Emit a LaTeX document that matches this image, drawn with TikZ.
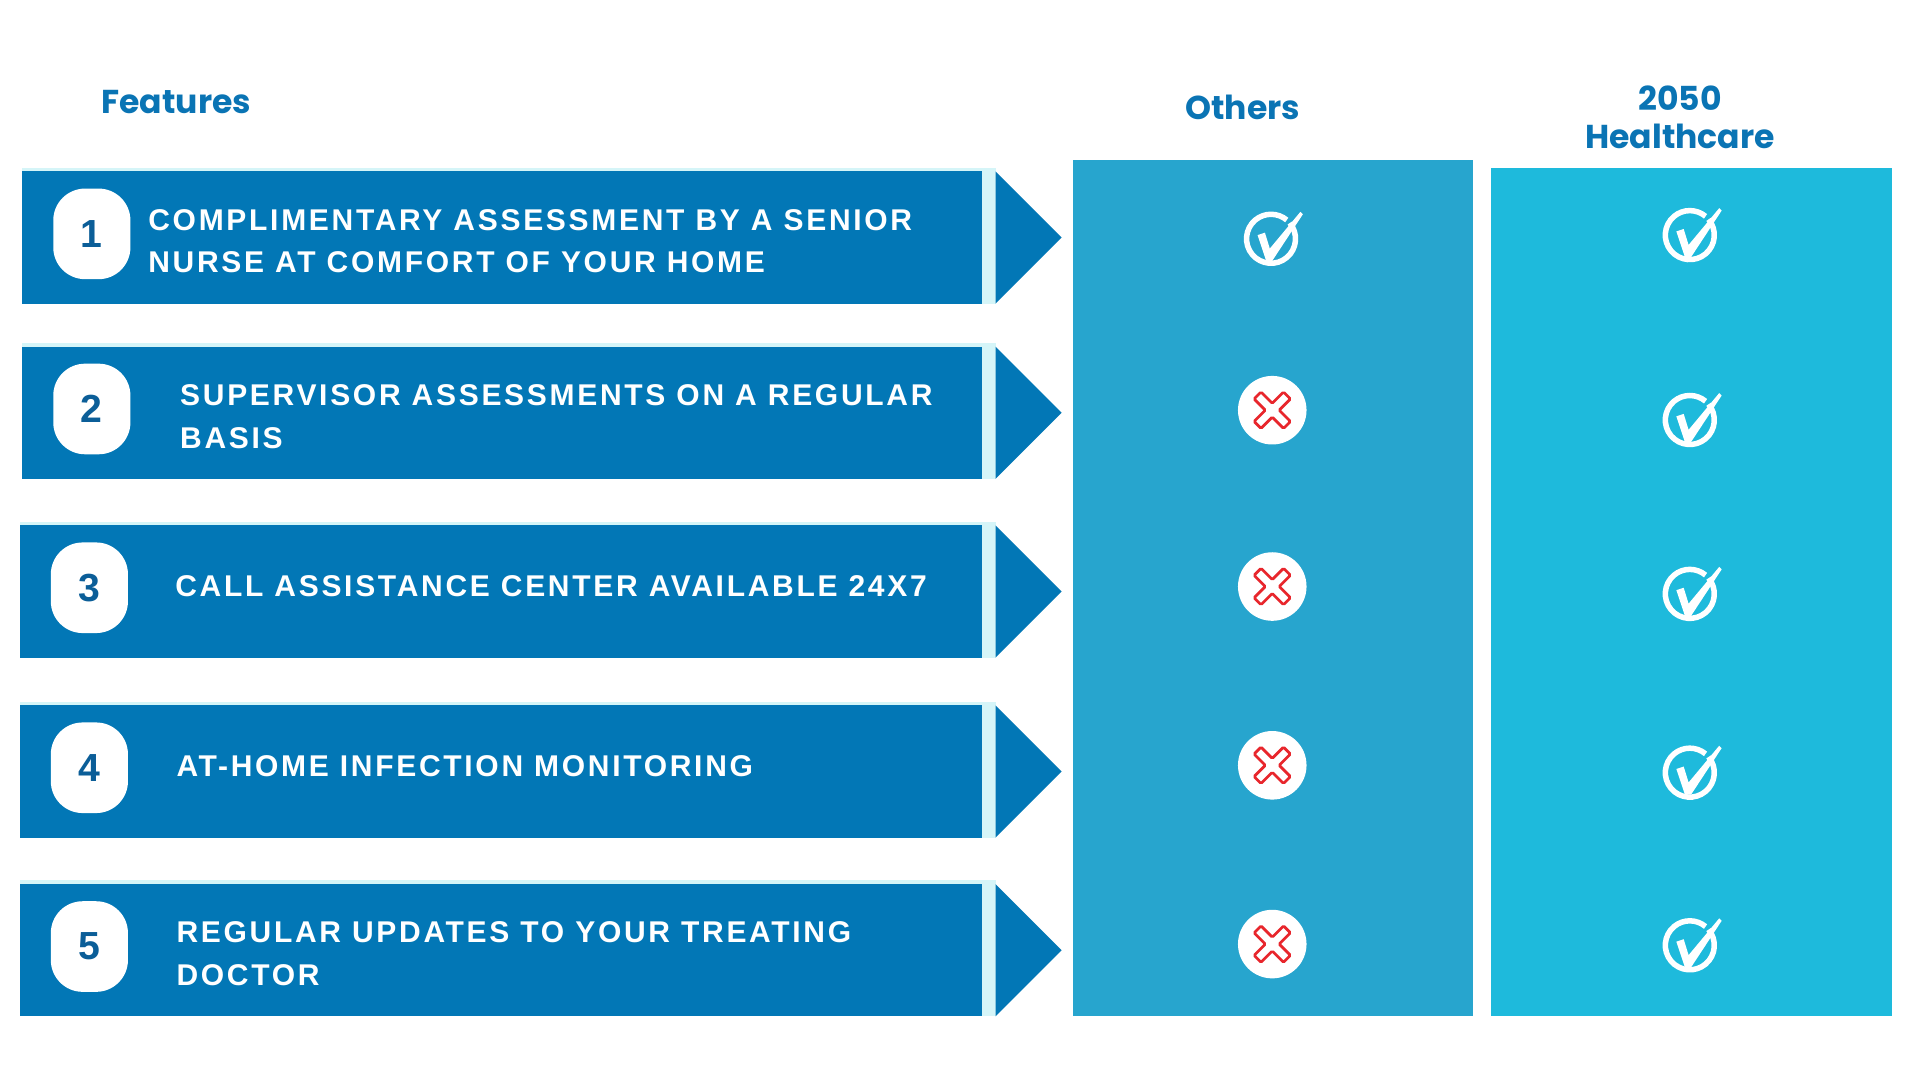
\documentclass[tikz,border=0pt]{standalone}
\usepackage{fontspec}
\setmainfont{Liberation Sans}
\newfontfamily\headfont{Poppins}
\newfontfamily\barfont[LetterSpace=9]{Liberation Sans}
\definecolor{barblue}{HTML}{0277B6}
\definecolor{strip}{HTML}{D5F5F8}
\definecolor{colA}{HTML}{27A5CE}
\definecolor{colB}{HTML}{1EBADC}
\definecolor{headblue}{HTML}{0A74B4}
\definecolor{numblue}{HTML}{0B5E98}
\definecolor{xred}{HTML}{E8262C}
\tikzset{
  bar/.style={fill=barblue, draw=none},
  feat/.style={text=white, font=\barfont\fontsize{24.5}{35}\selectfont\bfseries, anchor=west, align=left, inner sep=0},
  badge/.style={fill=white, rounded corners=26pt, minimum width=63pt, minimum height=74pt, inner sep=0, text=numblue, font=\fontsize{32}{32}\selectfont\bfseries},
  head/.style={text=headblue, font=\headfont\fontsize{27}{35}\selectfont\bfseries, align=center},
}
\newcommand{\checkicon}[2]{%
  \draw[white, line width=4.5pt] (#1,#2) ++(40:20pt) arc[start angle=40, end angle=-310, radius=20pt];
  \fill[white] (#1-11,#2-3) -- (#1-5,#2-5) -- (#1-1,#2+8) -- (#1+24,#2-22) -- (#1+26,#2-20) -- (#1+1,#2+18) -- (#1-4,#2+18) -- cycle;
}
\newcommand{\crossicon}[2]{%
  \fill[white] (#1,#2) circle[radius=28pt];
  \begin{scope}[shift={(#1,#2)}, rotate=45]
    \draw[xred, line width=2.2pt, rounded corners=1pt] (-4,-17) -- (4,-17) -- (4,-4) -- (17,-4) -- (17,4) -- (4,4) -- (4,17) -- (-4,17) -- (-4,4) -- (-17,4) -- (-17,-4) -- (-4,-4) -- cycle;
  \end{scope}
}
\begin{document}
\begin{tikzpicture}[x=1pt,y=-1pt]
\useasboundingbox[fill=white] (0,0) rectangle (1568,882);
% columns
\fill[colA] (876,131) rectangle (1203,830);
\fill[colB] (1218,137) rectangle (1545,830);
\node[head] (hfeat) at (144,83) {Features};
\node[head] (hoth) at (1015,88) {Others};
\node[head] (h2050) at (1372,96) {2050\\[-4pt]Healthcare};
% rows
\foreach \i/\yt/\xl/\xt/\txt/\cy/\dy in {
 1/140/18/121/{COMPLIMENTARY ASSESSMENT BY A SENIOR\\NURSE AT COMFORT OF YOUR HOME}/192/3,
 2/283/18/147/{SUPERVISOR ASSESSMENTS ON A REGULAR\\BASIS}/343/3,
 3/429/16/143/{CALL ASSISTANCE CENTER AVAILABLE 24X7}/485/-4,
 4/576/16/144/{AT-HOME INFECTION MONITORING}/631/-4,
 5/722/16/144/{REGULAR UPDATES TO YOUR TREATING\\DOCTOR}/772/3} {
  \pgfmathsetmacro{\yb}{\yt+108}
  \pgfmathsetmacro{\ym}{\yt+54}
  \fill[strip] (\xl,\yt-3) rectangle (813,\yb);
  \fill[barblue] (\xl,\yt) rectangle (802,\yb);
  \fill[barblue] (813,\yt) -- (867,\ym) -- (813,\yb) -- cycle;
  \node[badge] (b\i) at (\xl+57,\ym-3) {\i};
  \node[feat] (t\i) at (\xt,\ym+\dy) {\txt};
  \checkicon{1380}{\cy}
}
\checkicon{1038}{195}
\crossicon{1039}{335}
\crossicon{1039}{479}
\crossicon{1039}{625}
\crossicon{1039}{771}
\end{tikzpicture}
\end{document}
